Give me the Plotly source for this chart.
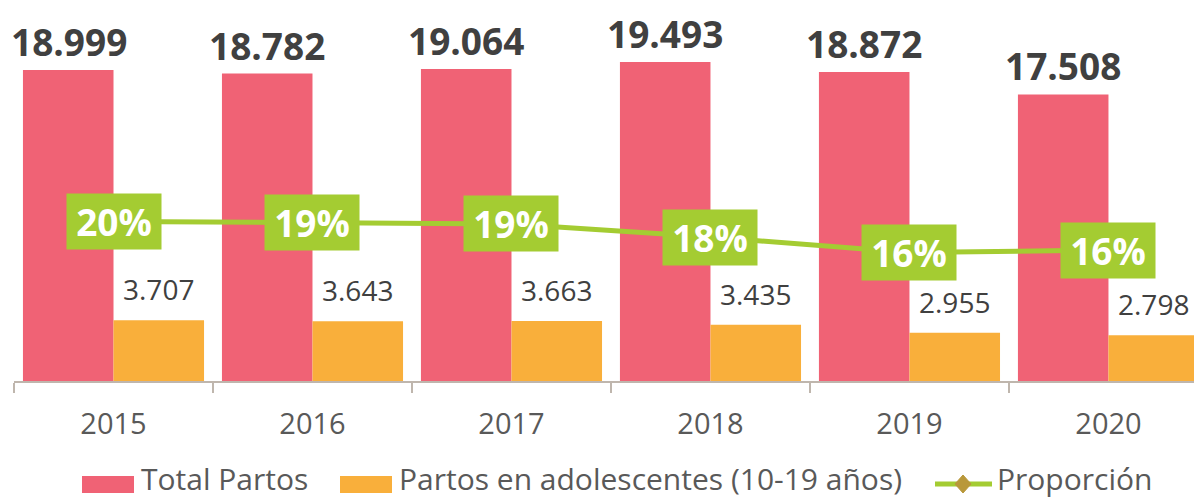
import plotly.graph_objects as go

years = ["2015", "2016", "2017", "2018", "2019", "2020"]
total_partos = [18999, 18782, 19064, 19493, 18872, 17508]
partos_adol = [3707, 3643, 3663, 3435, 2955, 2798]
proporcion = [0.195, 0.194, 0.192, 0.176, 0.157, 0.160]
prop_labels = ["20%", "19%", "19%", "18%", "16%", "16%"]
series_names = ["Total Partos", "Partos en adolescentes (10-19 años)", "Proporción"]

def fmt(v):
    return f"{v:,}".replace(",", ".")

PINK = "#f06275"
ORANGE = "#f9af3b"
GREEN = "#a4cc32"
DIAMOND = "#b9983a"
FONT = "Open Sans"

# page offset of the plot area (body margin compensated)
PLOT_L, PLOT_W, PLOT_B, PLOT_H = 14, 1188, 381, 373

def px(xp, yp):
    return (xp - PLOT_L) / PLOT_W, (PLOT_B - yp) / PLOT_H

fig = go.Figure()
fig.add_trace(go.Bar(
    x=years, y=total_partos, name=series_names[0],
    marker=dict(color=PINK, line=dict(width=0)),
))
fig.add_trace(go.Bar(
    x=years, y=partos_adol, name=series_names[1],
    marker=dict(color=ORANGE, line=dict(width=0)),
))
fig.add_trace(go.Scatter(
    x=years, y=proporcion, name=series_names[2], yaxis="y2",
    mode="lines",
    line=dict(color=GREEN, width=5),
    cliponaxis=False,
))

# value labels
for i, v in enumerate(total_partos):
    fig.add_annotation(
        x=i, y=v, xref="x", yref="y", text=f"<b>{fmt(v)}</b>",
        showarrow=False, xanchor="center", yanchor="bottom",
        xshift=-45, yshift=1,
        font=dict(family=FONT, size=37, color="#404040"),
    )
for i, v in enumerate(partos_adol):
    fig.add_annotation(
        x=i, y=v, xref="x", yref="y", text=fmt(v),
        showarrow=False, xanchor="center", yanchor="bottom",
        xshift=45, yshift=10,
        font=dict(family=FONT, size=28, color="#404040"),
    )
for i, (p, lab) in enumerate(zip(proporcion, prop_labels)):
    fig.add_annotation(
        x=i, y=p, xref="x", yref="y2", text=f"<b>{lab}</b>",
        showarrow=False, bgcolor=GREEN, width=92, height=53,
        font=dict(family=FONT, size=37, color="white"),
        xanchor="center", yanchor="middle",
    )

# legend (drawn manually to match the reference's wide swatches)
LEG_Y = 478
swatches = [(82, 134, PINK), (340, 392, ORANGE)]
for x0, x1, col in swatches:
    a0, b0 = px(x0, LEG_Y + 15)
    a1, b1 = px(x1, LEG_Y - 2)
    fig.add_shape(type="rect", xref="paper", yref="paper", x0=a0, x1=a1, y0=b0, y1=b1,
                  fillcolor=col, line=dict(width=0))
la, lb = px(935, LEG_Y + 6)
lc, _ = px(992, LEG_Y + 6)
fig.add_shape(type="line", xref="paper", yref="paper", x0=la, x1=lc, y0=lb, y1=lb,
              line=dict(color=GREEN, width=5))
cx, cy = 963, LEG_Y + 6
pts = [px(cx - 8, cy), px(cx, cy - 9), px(cx + 8, cy), px(cx, cy + 9)]
path = "M " + " L ".join(f"{a},{b}" for a, b in pts) + " Z"
fig.add_shape(type="path", xref="paper", yref="paper", path=path,
              fillcolor=DIAMOND, line=dict(color=DIAMOND, width=1))
for xstart, name in zip([139, 397, 995], series_names):
    a, b = px(xstart, LEG_Y)
    fig.add_annotation(
        x=a, y=b, xref="paper", yref="paper", text=name, showarrow=False,
        xanchor="left", yanchor="middle",
        font=dict(family=FONT, size=30, color="#595959"),
    )

fig.update_layout(
    width=1194, height=491,
    margin=dict(l=6, r=0, t=0, b=118, autoexpand=False),
    paper_bgcolor="white", plot_bgcolor="white",
    barmode="group", bargap=0.09, bargroupgap=0,
    font=dict(family=FONT, color="#595959"),
    showlegend=False,
    xaxis=dict(
        type="category", range=[-0.5, 5.47],
        showline=True, linecolor="#bfb6ad", linewidth=2,
        ticks="outside", tickson="boundaries", ticklen=10, tickcolor="#bfb6ad", tickwidth=2,
        tickfont=dict(family=FONT, size=29, color="#595959"),
        ticklabelstandoff=16,
        showgrid=False, zeroline=False,
    ),
    yaxis=dict(range=[0, 22785], showticklabels=False, showline=False,
               showgrid=False, zeroline=False, ticks=""),
    yaxis2=dict(range=[0, 0.456], overlaying="y", showticklabels=False, showline=False,
                showgrid=False, zeroline=False, ticks=""),
)

fig.write_html("out.html")
